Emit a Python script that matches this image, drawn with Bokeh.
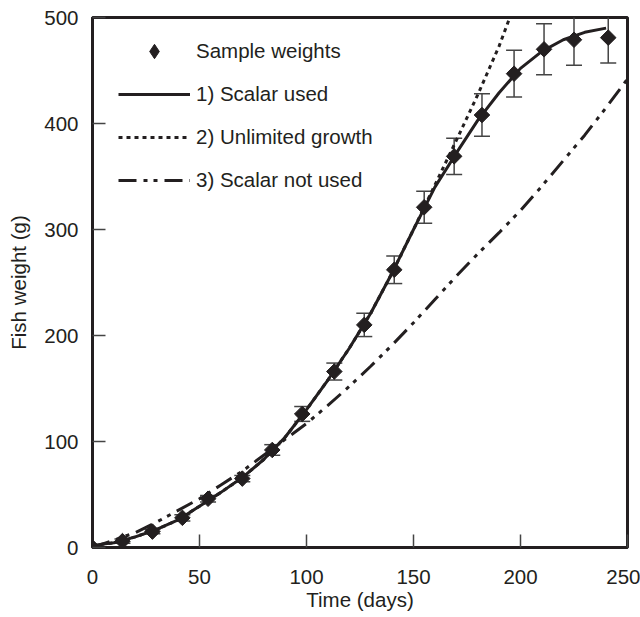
from bokeh.plotting import figure
from bokeh.models import (ColumnDataSource, Whisker, TeeHead, Range1d, FixedTicker,
                          Legend, LegendItem, CDSView, IndexFilter)
from bokeh.embed import file_html
from bokeh.resources import INLINE
import numpy as np

# Sample weights (mean +/- error)
sample_days = [0, 14, 28, 42, 54, 70, 84, 98, 113, 127, 141, 155, 169, 182, 197, 211, 225, 241]
sample_weights = [0, 6, 15, 28, 46, 65, 92, 126, 166, 210, 262, 321, 369, 408, 447, 470, 479, 481]
sample_err = [0, 2, 2, 3, 3, 3, 5, 7, 8, 11, 13, 15, 17, 20, 22, 24, 24, 24]

# 1) Scalar used
scalar_days = [0, 10, 20, 30, 40, 50, 60, 70, 80, 90, 100, 110, 120, 130, 140, 150,
               160, 170, 180, 190, 200, 210, 220, 230, 240]
scalar_weights = [2, 4.5, 10, 17, 26, 39, 52, 66, 83, 104, 130, 158, 188, 221, 259, 300,
                  340, 372, 403, 429, 452, 468, 479, 486, 490]

# 2) Unlimited growth
unlim_days = [0, 10, 20, 30, 40, 50, 60, 70, 80, 90, 100, 110, 120, 130, 140, 150,
              160, 170, 180, 190, 195]
unlim_weights = [2, 4.5, 10, 17, 26, 39, 52, 66, 83, 104, 130, 158, 188, 221, 259, 300,
                 342, 384, 427, 473, 500]

# 3) Scalar not used
noscalar_days = [0, 10, 20, 30, 40, 50, 60, 70, 80, 90, 100, 110, 120, 130, 140, 150,
                 160, 170, 180, 190, 200, 210, 220, 230, 240, 250]
noscalar_weights = [0, 7, 14, 24, 35, 46, 59, 72, 87, 102, 117, 134, 152, 171, 191, 212,
                    234, 256, 277, 297, 318, 341, 365, 389, 415, 442]

x_ticks = [0, 50, 100, 150, 200, 250]
y_ticks = [0, 100, 200, 300, 400, 500]

INK = "#231f20"
FONT = "Liberation Sans"
FS = "20.5px"

p = figure(width=640, height=617, x_range=Range1d(0, 250), y_range=Range1d(0, 500),
           output_backend="svg", toolbar_location=None,
           min_border_left=92, min_border_right=13, min_border_top=17, min_border_bottom=70)
p.xgrid.visible = False
p.ygrid.visible = False
p.outline_line_color = INK
p.outline_line_width = 3
p.background_fill_color = "white"
p.border_fill_color = "white"

for ax in (p.xaxis[0], p.yaxis[0]):
    ax.axis_line_color = INK
    ax.axis_line_width = 3
    ax.major_tick_in = 13
    ax.major_tick_out = 0
    ax.minor_tick_line_color = None
    ax.major_tick_line_color = "#444444"
    ax.major_tick_line_width = 1.5
    ax.major_label_text_font = FONT
    ax.major_label_text_font_size = FS
    ax.major_label_text_color = INK
    ax.axis_label_text_font = FONT
    ax.axis_label_text_font_size = FS
    ax.axis_label_text_font_style = "normal"
    ax.axis_label_text_color = INK

p.xaxis.ticker = FixedTicker(ticks=x_ticks)
p.yaxis.ticker = FixedTicker(ticks=y_ticks)
p.xaxis.axis_label = "Time (days)"
p.yaxis.axis_label = "Fish weight (g)"
p.xaxis.major_label_standoff = 22
p.yaxis.major_label_standoff = 14
p.xaxis.axis_label_standoff = 1
p.yaxis.axis_label_standoff = 11

# curves
r_scalar = p.line(scalar_days, scalar_weights, line_color=INK, line_width=3)
r_unlim = p.line(unlim_days, unlim_weights, line_color=INK, line_width=3, line_dash="4 4")
r_noscalar = p.line(noscalar_days, noscalar_weights, line_color=INK, line_width=3,
                    line_dash="18 7 4 6 4 7")

# error bars
src = ColumnDataSource(dict(
    x=sample_days, y=sample_weights,
    upper=[w + e for w, e in zip(sample_weights, sample_err)],
    lower=[w - e for w, e in zip(sample_weights, sample_err)],
))
wh = Whisker(base="x", upper="upper", lower="lower", source=src,
             line_color="#444444", line_width=1.5,
             upper_head=TeeHead(size=16, line_color="#444444", line_width=1.5),
             lower_head=TeeHead(size=16, line_color="#444444", line_width=1.5))
p.add_layout(wh)

r_pts = p.scatter("x", "y", source=src, marker="square", angle=np.pi / 4, size=11,
                  fill_color=INK, line_color=INK)
# legend key (diamond shape); it coincides with (and hides inside) the first sample marker
r_key = p.scatter("x", "y", source=src, marker="diamond", size=15,
                  fill_color=INK, line_color=INK, view=CDSView(filter=IndexFilter([0])))

legend = Legend(items=[
    LegendItem(label="Sample weights", renderers=[r_key]),
    LegendItem(label="1) Scalar used", renderers=[r_scalar]),
    LegendItem(label="2) Unlimited growth", renderers=[r_unlim]),
    LegendItem(label="3) Scalar not used", renderers=[r_noscalar]),
], location=(26, 349))
legend.margin = 0
legend.padding = 0
legend.spacing = 7
legend.glyph_width = 72
legend.glyph_height = 36
legend.label_standoff = 6
legend.label_height = 24
legend.label_text_font = FONT
legend.label_text_font_size = FS
legend.label_text_color = INK
legend.border_line_alpha = 0
legend.background_fill_alpha = 0
p.add_layout(legend)

open("out.html", "w").write(file_html(p, INLINE))
